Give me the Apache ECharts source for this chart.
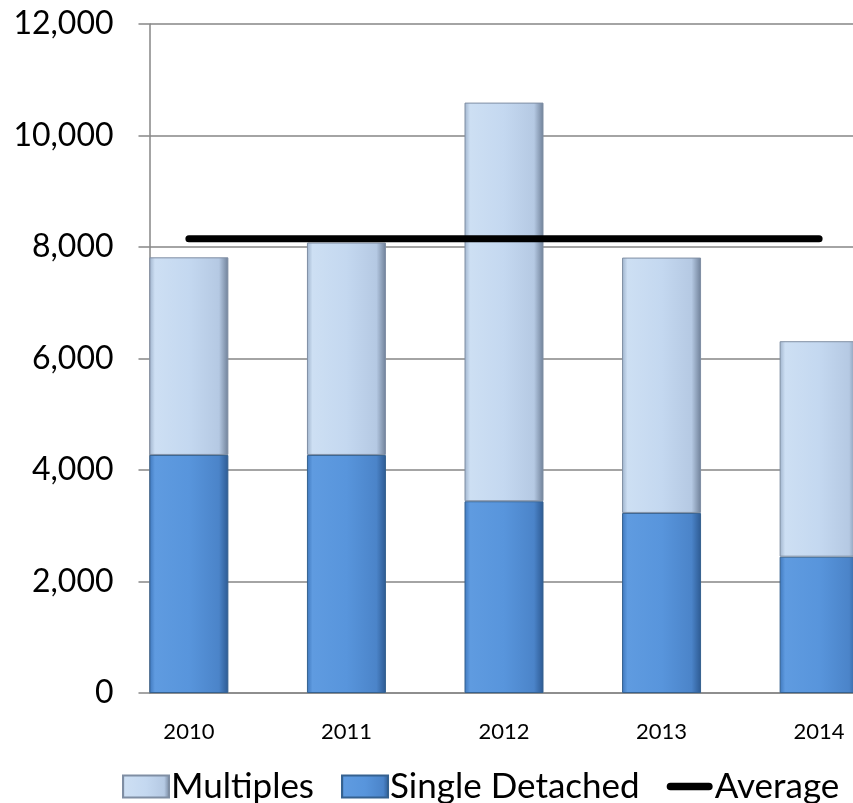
<!DOCTYPE html>
<html>
<head>
<meta charset="utf-8">
<script src="https://cdn.jsdelivr.net/npm/echarts@6/dist/echarts.min.js"></script>
<style>
  html, body { margin: 0; padding: 0; background: #fff; }
  #chart { width: 853px; height: 803px; }
</style>
</head>
<body>
<div id="chart"></div>
<script>
// Housing starts by year: multiples stacked on single detached, with the period average.
const years = ['2010', '2011', '2012', '2013', '2014'];
const singleDetached = [4270, 4270, 3440, 3230, 2445];
const multiples = [3545, 3810, 7150, 4580, 3865];
const average = [8150, 8150, 8150, 8150, 8150];
const yTicks = [0, 2000, 4000, 6000, 8000, 10000, 12000];

// The category axis is laid out in quarter-year slots so the value axis
// sits a quarter step left of the first year; years occupy every 4th slot.
const SLOTS_PER_YEAR = 4;
const FIRST = 1;
const slotCount = FIRST + SLOTS_PER_YEAR * (years.length - 1) + 2;
const slotLabels = new Array(slotCount).fill('');
years.forEach((y, i) => { slotLabels[FIRST + i * SLOTS_PER_YEAR] = y; });
const spread = (vals) => {
  const out = new Array(slotCount).fill('-');
  vals.forEach((v, i) => { out[FIRST + i * SLOTS_PER_YEAR] = v; });
  return out;
};

const FONT = 'Lato, "Open Sans", sans-serif';
const grid = '#868686';

const multiplesFill = {
  type: 'linear', x: 0, y: 0, x2: 1, y2: 0,
  colorStops: [
    { offset: 0, color: '#9fb3cc' },
    { offset: 0.07, color: '#cddff3' },
    { offset: 0.5, color: '#c4d8f0' },
    { offset: 0.88, color: '#b5c9e3' },
    { offset: 1, color: '#6f8098' }
  ]
};
const singleFill = {
  type: 'linear', x: 0, y: 0, x2: 1, y2: 0,
  colorStops: [
    { offset: 0, color: '#3f78bd' },
    { offset: 0.07, color: '#5f9be0' },
    { offset: 0.5, color: '#5895dc' },
    { offset: 0.88, color: '#4b84c9' },
    { offset: 1, color: '#2d5a92' }
  ]
};

// Thick rounded bar used as the legend key for the average line.
const avgIcon = 'path://M4,0 L44,0 A4,4 0 0 1 44,8 L4,8 A4,4 0 0 1 4,0 Z';

const chart = echarts.init(document.getElementById('chart'));
chart.setOption({
  animation: false,
  backgroundColor: '#ffffff',
  textStyle: { fontFamily: FONT },
  grid: { left: 149.5, width: 709, top: 24, bottom: 110, outerBoundsMode: 'none', containLabel: false },
  legend: {
    left: 122, top: 769, width: 731, padding: 0,
    itemWidth: 46, itemHeight: 22, itemGap: 27,
    textStyle: { fontSize: 35, color: '#000', fontFamily: FONT, padding: [0, 0, 0, -3] },
    data: [
      { name: 'Multiples', icon: 'rect' },
      { name: 'Single Detached', icon: 'rect' },
      { name: 'Average', icon: avgIcon }
    ]
  },
  xAxis: {
    type: 'category',
    data: slotLabels,
    boundaryGap: false,
    axisLine: { lineStyle: { color: grid, width: 1.5 } },
    axisTick: { show: false },
    axisLabel: { interval: 0, margin: 28, fontSize: 22, color: '#000', fontFamily: FONT },
    splitLine: { show: false }
  },
  yAxis: {
    type: 'value',
    min: 0, max: yTicks[yTicks.length - 1], interval: yTicks[1] - yTicks[0],
    axisLine: { show: true, lineStyle: { color: grid, width: 1.5 } },
    axisTick: { show: true, length: 11, lineStyle: { color: grid, width: 1.5 } },
    axisLabel: {
      margin: 36, fontSize: 32, color: '#000', fontFamily: FONT,
      formatter: (v) => v.toLocaleString('en-US')
    },
    splitLine: { show: true, lineStyle: { color: grid, width: 1.5 } }
  },
  series: [
    {
      name: 'Single Detached', type: 'bar', stack: 'total', barWidth: 79,
      data: spread(singleDetached),
      itemStyle: { color: singleFill, borderColor: '#35618f', borderWidth: 1 }
    },
    {
      name: 'Multiples', type: 'bar', stack: 'total', barWidth: 79,
      data: spread(multiples),
      itemStyle: { color: multiplesFill, borderColor: '#7f8ea3', borderWidth: 1 }
    },
    {
      name: 'Average', type: 'line', z: 5,
      data: spread(average), connectNulls: true,
      symbol: 'none',
      lineStyle: { color: '#000', width: 7, cap: 'round' },
      itemStyle: { color: '#000' }
    }
  ]
});
</script>
</body>
</html>
